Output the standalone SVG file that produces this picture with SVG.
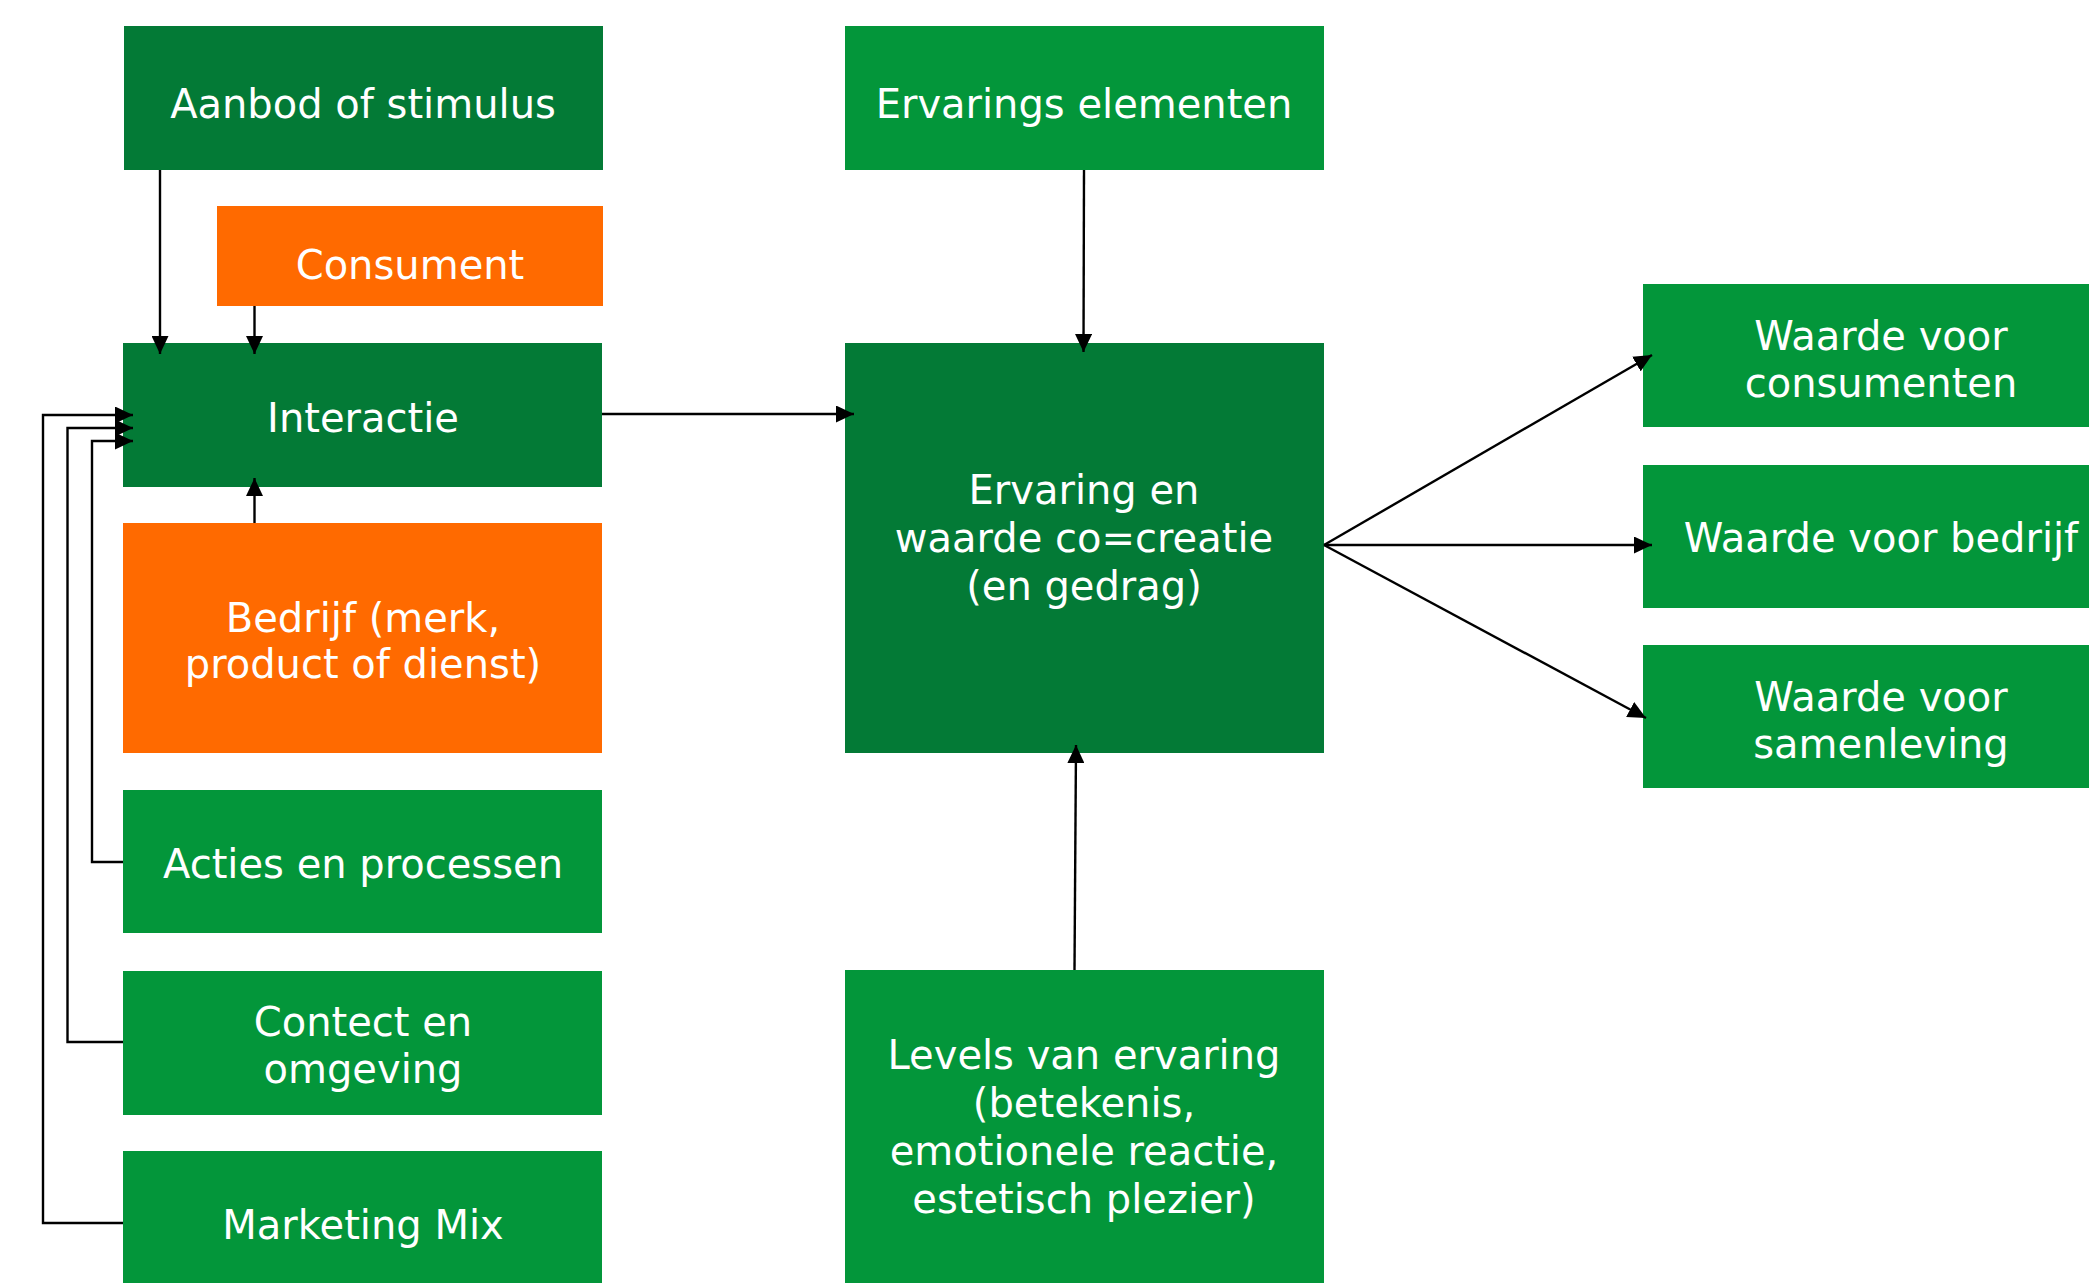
<svg xmlns="http://www.w3.org/2000/svg" width="2089" height="1283" viewBox="0 0 2089 1283">
<style>
.dk{fill:#037A36}
.lt{fill:#03963A}
.or{fill:#FF6A00}
.t{fill:#ffffff;font-family:"DejaVu Sans","Liberation Sans",sans-serif;font-size:40px;text-anchor:middle}
.c{fill:none;stroke:#000;stroke-width:2.4}
</style>
<defs>
<marker id="ah" markerUnits="userSpaceOnUse" markerWidth="18" markerHeight="17" refX="18" refY="8.5" orient="auto" viewBox="0 0 18 17">
<path d="M0,0 L18,8.5 L0,17 Z" fill="#000"/>
</marker>
</defs>
<rect width="2089" height="1283" fill="#ffffff"/>
<g id="n-aanbod"><rect class="dk" x="124" y="26" width="479" height="144"/><text class="t" x="363" y="118">Aanbod of stimulus</text></g>
<g id="n-consument"><rect class="or" x="217" y="206" width="386" height="100"/><text class="t" x="410" y="279">Consument</text></g>
<g id="n-interactie"><rect class="dk" x="123" y="343" width="479" height="144"/><text class="t" x="363" y="432">Interactie</text></g>
<g id="n-bedrijf"><rect class="or" x="123" y="523" width="479" height="230"/><text class="t" x="363" y="632">Bedrijf (merk,</text><text class="t" x="363" y="678">product of dienst)</text></g>
<g id="n-acties"><rect class="lt" x="123" y="790" width="479" height="143"/><text class="t" x="363" y="878">Acties en processen</text></g>
<g id="n-contect"><rect class="lt" x="123" y="971" width="479" height="144"/><text class="t" x="363" y="1036">Contect en</text><text class="t" x="363" y="1083">omgeving</text></g>
<g id="n-marketing"><rect class="lt" x="123" y="1151" width="479" height="132"/><text class="t" x="363" y="1239">Marketing Mix</text></g>
<g id="n-elementen"><rect class="lt" x="845" y="26" width="479" height="144"/><text class="t" x="1084" y="118">Ervarings elementen</text></g>
<g id="n-ervaring"><rect class="dk" x="845" y="343" width="479" height="410"/><text class="t" x="1084" y="504">Ervaring en</text><text class="t" x="1084" y="552">waarde co=creatie</text><text class="t" x="1084" y="600">(en gedrag)</text></g>
<g id="n-levels"><rect class="lt" x="845" y="970" width="479" height="313"/><text class="t" x="1084" y="1069">Levels van ervaring</text><text class="t" x="1084" y="1117">(betekenis,</text><text class="t" x="1084" y="1165">emotionele reactie,</text><text class="t" x="1084" y="1213">estetisch plezier)</text></g>
<g id="n-wconsumenten"><rect class="lt" x="1643" y="284" width="446" height="143"/><text class="t" x="1881" y="350">Waarde voor</text><text class="t" x="1881" y="397">consumenten</text></g>
<g id="n-wbedrijf"><rect class="lt" x="1643" y="465" width="446" height="143"/><text class="t" x="1881" y="552">Waarde voor bedrijf</text></g>
<g id="n-wsamenleving"><rect class="lt" x="1643" y="645" width="446" height="143"/><text class="t" x="1881" y="711">Waarde voor</text><text class="t" x="1881" y="758">samenleving</text></g>
<g id="connectors">
<path class="c" d="M160,170 L160,354" marker-end="url(#ah)"/>
<path class="c" d="M254.5,306 L254.5,354" marker-end="url(#ah)"/>
<path class="c" d="M254.5,523 L254.5,478" marker-end="url(#ah)"/>
<path class="c" d="M123,862 L92,862 L92,441 L133,441" marker-end="url(#ah)"/>
<path class="c" d="M123,1042 L67.5,1042 L67.5,428 L133,428" marker-end="url(#ah)"/>
<path class="c" d="M123,1223 L43,1223 L43,415 L133,415" marker-end="url(#ah)"/>
<path class="c" d="M602,414 L854,414" marker-end="url(#ah)"/>
<path class="c" d="M1084,170 L1083.5,352" marker-end="url(#ah)"/>
<path class="c" d="M1074.5,970 L1076,745" marker-end="url(#ah)"/>
<path class="c" d="M1324,545 L1652,355" marker-end="url(#ah)"/>
<path class="c" d="M1324,545 L1652,545" marker-end="url(#ah)"/>
<path class="c" d="M1324,545 L1646,718" marker-end="url(#ah)"/>
</g>
</svg>
